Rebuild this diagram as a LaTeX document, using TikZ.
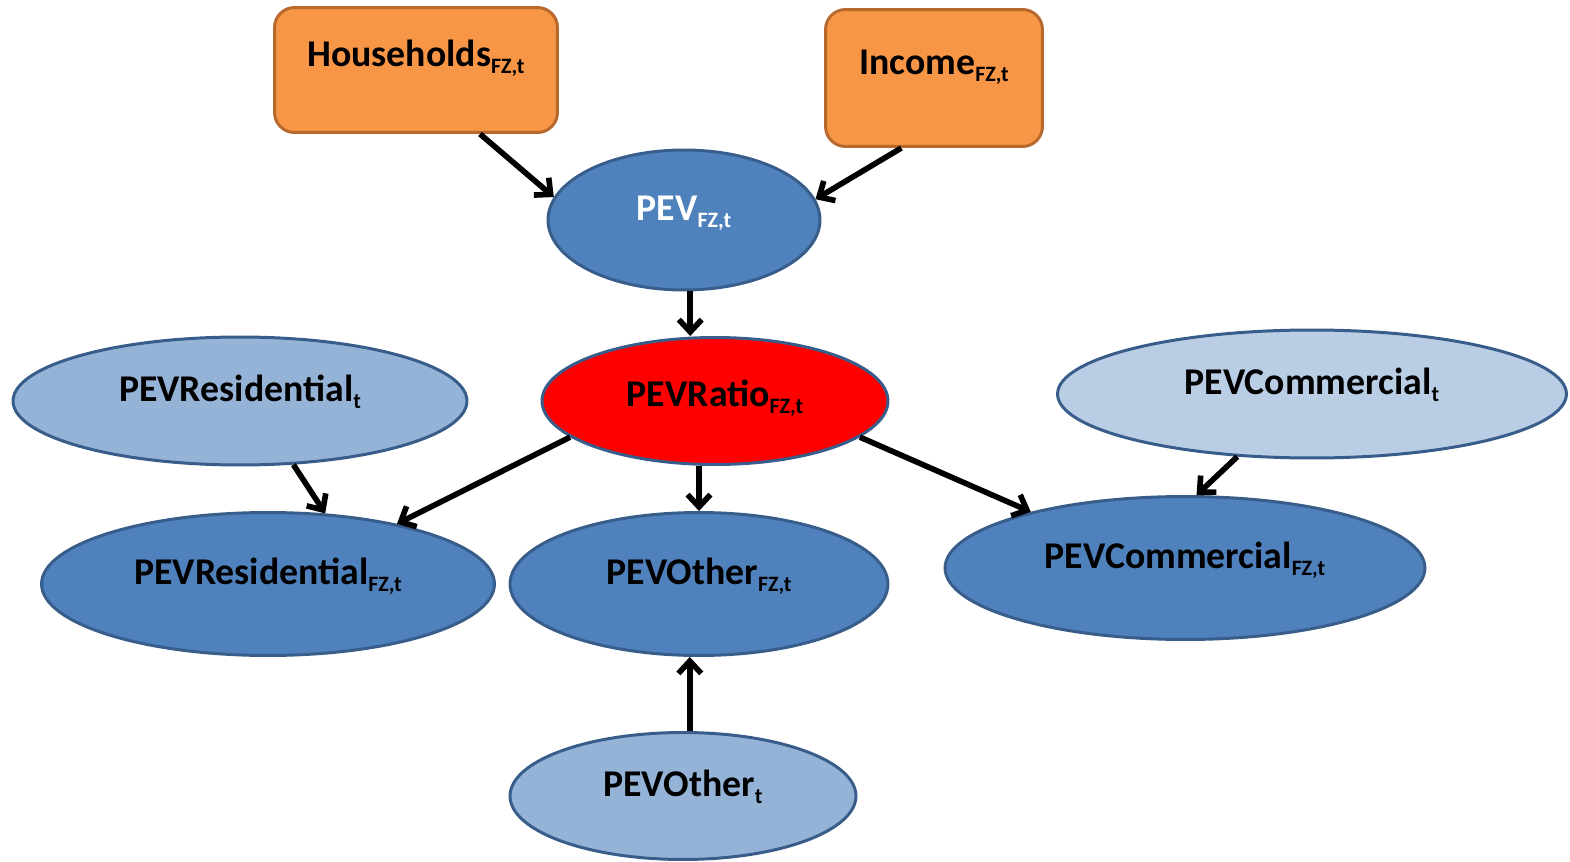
\documentclass[tikz,border=0pt]{standalone}
\usepackage{fontspec}
\setmainfont{Carlito}
\usepackage{tikz}
\usetikzlibrary{positioning}
\usetikzlibrary{arrows.meta,shapes.geometric}

\definecolor{boxorange}{HTML}{F79646}
\definecolor{boxedge}{HTML}{B7692E}
\definecolor{pevblue}{HTML}{4F81BD}
\definecolor{pevedge}{HTML}{385D8A}
\definecolor{pevlight}{HTML}{95B3D7}
\definecolor{pevpale}{HTML}{B9CDE5}

\newcommand{\fz}[1]{\raisebox{-4.5pt}{\fontsize{12.5}{13}\selectfont #1}}

\begin{document}
\begin{tikzpicture}[x=0.02cm,y=-0.02cm,>={Straight Barb[length=7pt,width=13pt]},line width=3.2pt,
    every node/.style={font=\fontsize{21.5}{26}\selectfont\bfseries,text height=0.5cm,text depth=0.5cm},
    input/.style={draw=boxedge,fill=boxorange,rounded corners=0.4cm,line width=1.7pt,text depth=0.66cm},
    var/.style={ellipse,draw=pevedge,fill=pevblue,line width=1.7pt}]
  \useasboundingbox (0,0) rectangle (1570,862);

  \node[input,minimum width=5.66cm,minimum height=2.5cm]  (Households) at (416,70) {Households\fz{FZ,t}};
  \node[input,minimum width=4.34cm,minimum height=2.74cm] (Income)     at (934,78) {Income\fz{FZ,t}};

  \node[var,text=white,minimum width=5.44cm,minimum height=2.8cm] (PEV)      at (684,220) {PEV\fz{FZ,t}};
  \node[var,fill=red,text depth=0.3cm,minimum width=6.92cm,minimum height=2.54cm] (PEVRatio) at (715,401) {PEVRatio\fz{FZ,t}};

  \node[var,fill=pevlight,minimum width=9.08cm,minimum height=2.56cm] (PEVResidential) at (240,401)  {PEVResidential\fz{t}};
  \node[var,fill=pevpale,minimum width=10.18cm,minimum height=2.56cm] (PEVCommercial)  at (1312,394) {PEVCommercial\fz{t}};
  \node[var,fill=pevlight,minimum width=6.92cm,minimum height=2.54cm] (PEVOther)       at (683,796)  {PEVOther\fz{t}};

  \node[var,minimum width=9.06cm,minimum height=2.86cm] (PEVResidentialFZ) at (268,584)  {PEVResidential\fz{FZ,t}};
  \node[var,minimum width=7.56cm,minimum height=2.86cm] (PEVOtherFZ)       at (699,584)  {PEVOther\fz{FZ,t}};
  \node[var,minimum width=9.6cm,minimum height=2.86cm]  (PEVCommercialFZ)  at (1185,568) {PEVCommercial\fz{FZ,t}};

  \path[->]
      (Households.-45) edge (PEV.170)
         (Income.-115) edge (PEV.9)
             (PEV.-85) edge (PEV.-85 |- PEVRatio.north)
  (PEVResidential.-50) edge (PEVResidentialFZ.51)
       (PEVRatio.-166) edge (PEVResidentialFZ.25)
  (PEVOtherFZ.north |- PEVRatio.south) edge (PEVOtherFZ.north)
        (PEVRatio.-14) edge (PEVCommercialFZ.160)
 (PEVCommercial.-140) edge (PEVCommercialFZ.81)
         (PEVOther.84) edge (PEVOther.84 |- PEVOtherFZ.south);
\end{tikzpicture}
\end{document}
